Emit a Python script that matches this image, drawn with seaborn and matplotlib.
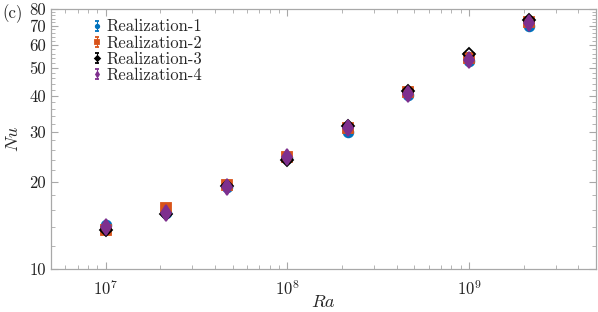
import numpy as np
import pandas as pd
import matplotlib
matplotlib.use("Agg")
import matplotlib.pyplot as plt
import matplotlib.ticker as mticker
from matplotlib.lines import Line2D
from matplotlib.container import ErrorbarContainer
from matplotlib.legend_handler import HandlerErrorbar
import seaborn as sns

# Rayleigh numbers (3 per decade)
ra = [1e7, 2.15e7, 4.64e7, 1e8, 2.15e8, 4.64e8, 1e9, 2.15e9]

nu_r1 = [14.2, 15.6, 19.2, 24.3, 30.0, 40.1, 52.6, 69.7]
nu_r2 = [13.7, 16.3, 19.6, 24.4, 31.0, 41.1, 54.0, 72.4]
nu_r3 = [13.7, 15.5, 19.4, 23.9, 31.5, 41.6, 55.8, 73.3]
nu_r4 = [14.0, 15.6, 19.3, 24.4, 30.8, 40.7, 53.1, 71.4]

# small error bars (relative)
err_frac = [0.01, 0.01, 0.01, 0.01, 0.01, 0.01, 0.01, 0.01]

names = ["Realization-1", "Realization-2", "Realization-3", "Realization-4"]
colors = ["#0072BD", "#D95319", "#000000", "#7E2F8E"]
markers = ["o", "s", "D", "d"]

df = pd.DataFrame({
    "Ra": ra * 4,
    "Nu": nu_r1 + nu_r2 + nu_r3 + nu_r4,
    "err": [e * v for e, v in zip(err_frac * 4, nu_r1 + nu_r2 + nu_r3 + nu_r4)],
    "run": sum([[n] * len(ra) for n in names], []),
})

sns.set_style("ticks")
plt.rcParams["font.family"] = ["cmr10", "DejaVu Serif"]
plt.rcParams["mathtext.fontset"] = "cm"
plt.rcParams["axes.formatter.use_mathtext"] = True
plt.rcParams["axes.unicode_minus"] = False

fig = plt.figure(figsize=(5.98, 3.12), dpi=100)
ax = fig.add_axes([0.0853, 0.138, 0.9114, 0.833])

sizes = {"o": 7, "s": 6.5, "D": 6, "d": 8}
for name, col, mk in zip(names, colors, markers):
    d = df[df["run"] == name]
    face = "none" if name == "Realization-3" else col
    ax.errorbar(d["Ra"], d["Nu"], yerr=d["err"], fmt=mk, color=col,
                mfc=face, mec=col, ms=sizes[mk], mew=1.3,
                elinewidth=0.8, capsize=1.5, label=name, zorder=3)

ax.set_xscale("log")
ax.set_yscale("log")
ax.set_xlim(5e6, 5e9)
ax.set_ylim(10, 80)

ax.yaxis.set_major_locator(mticker.FixedLocator([10, 20, 30, 40, 50, 60, 70, 80]))
ax.yaxis.set_major_formatter(mticker.FixedFormatter(["10", "20", "30", "40", "50", "60", "70", "80"]))
ax.yaxis.set_minor_locator(mticker.FixedLocator([v for v in range(12, 80, 2) if v % 10]))
ax.yaxis.set_minor_formatter(mticker.NullFormatter())
ax.xaxis.set_major_locator(mticker.LogLocator(base=10))
ax.xaxis.set_minor_locator(mticker.LogLocator(base=10, subs=np.arange(2, 10)))
ax.xaxis.set_minor_formatter(mticker.NullFormatter())

for s in ax.spines.values():
    s.set_color("#a8a8a8")
    s.set_linewidth(0.9)
ax.tick_params(which="both", direction="in", top=True, right=True, color="#a8a8a8",
               labelsize=12, labelcolor="#222222")
ax.tick_params(which="major", length=5, width=0.8)
ax.tick_params(which="minor", length=3, width=0.6)
ax.tick_params(axis="x", which="major", pad=7)

ax.set_xlabel(r"$Ra$", fontsize=13, labelpad=-3)
ax.set_ylabel(r"$Nu$", fontsize=13, labelpad=6)


def small_marker(h, orig):
    h.update_from(orig)
    if isinstance(h, Line2D):
        h.set_markersize(2.5)
        if h.get_markerfacecolor() == "none":
            h.set_markerfacecolor(h.get_color())


leg = ax.legend(loc="upper left", frameon=False, fontsize=12,
                handler_map={ErrorbarContainer: HandlerErrorbar(yerr_size=0.3, update_func=small_marker)},
                handlelength=0.6, handletextpad=0.3, labelspacing=0.05,
                borderaxespad=0.2, bbox_to_anchor=(0.056, 1.0))

fig.text(0.004, 0.985, "(c)", fontsize=12, ha="left", va="top")

fig.savefig("out.png", dpi=100)
